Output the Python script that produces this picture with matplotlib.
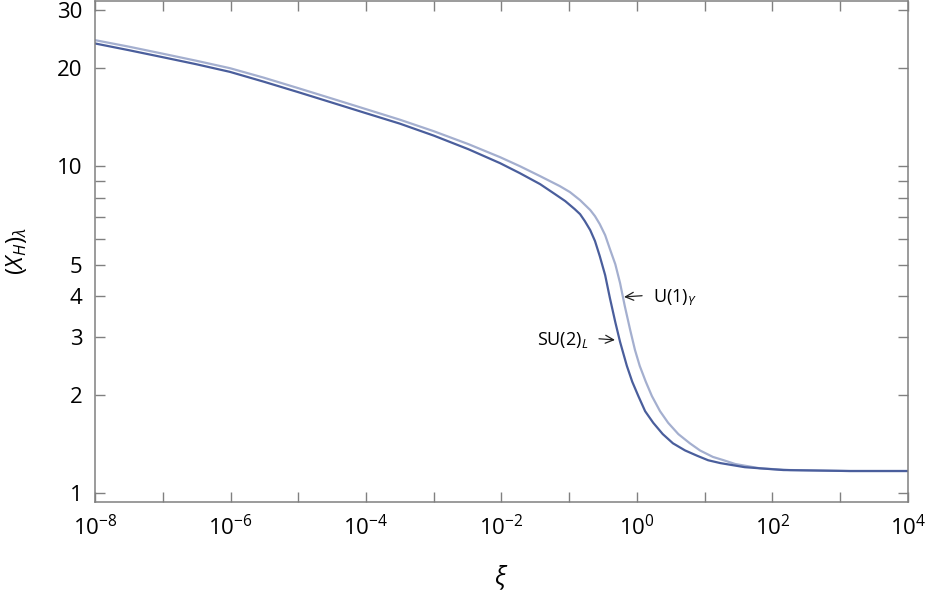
import numpy as np
import matplotlib
matplotlib.use('Agg')
import matplotlib.pyplot as plt
from matplotlib.ticker import FixedLocator, FixedFormatter, NullFormatter

plt.rcParams['font.family'] = ['Open Sans', 'DejaVu Sans']
plt.rcParams['mathtext.fontset'] = 'custom'
plt.rcParams['mathtext.rm'] = 'Open Sans'
plt.rcParams['mathtext.it'] = 'Open Sans:italic'
plt.rcParams['mathtext.fallback'] = 'stixsans'

# values: log10(xi) and (X_H)_lambda
su2_logxi = [-8.0, -7.5, -7.0, -6.51, -6.01, -5.51, -5.0, -4.5, -4.0, -3.5, -3.0, -2.49,
             -2.02, -1.73, -1.43, -1.21, -1.06, -0.92, -0.84, -0.77, -0.69, -0.62, -0.55,
             -0.47, -0.40, -0.32, -0.25, -0.15, -0.07, 0.02, 0.12, 0.24, 0.38, 0.53, 0.71,
             0.89, 1.05, 1.23, 1.59, 2.16, 3.14, 4.0]
su2_y = [23.73, 22.63, 21.54, 20.51, 19.43, 18.13, 16.84, 15.64, 14.52, 13.49, 12.40, 11.27,
         10.21, 9.52, 8.81, 8.21, 7.82, 7.39, 7.13, 6.79, 6.37, 5.90, 5.31,
         4.64, 3.95, 3.33, 2.90, 2.45, 2.19, 1.98, 1.78, 1.64, 1.515, 1.42, 1.35,
         1.30, 1.26, 1.235, 1.20, 1.176, 1.168, 1.168]

u1_logxi = [-8.0, -7.5, -7.0, -6.51, -6.01, -5.51, -5.0, -4.5, -4.0, -3.5, -3.0, -2.49,
            -2.02, -1.73, -1.43, -1.14, -0.99, -0.84, -0.69, -0.62, -0.55, -0.47, -0.40,
            -0.32, -0.25, -0.18, -0.10, -0.03, 0.04, 0.13, 0.22, 0.34, 0.46, 0.61, 0.78,
            0.93, 1.12, 1.28, 1.45, 1.82, 2.26, 3.14, 4.0]
u1_y = [24.29, 23.20, 22.08, 21.02, 19.94, 18.65, 17.32, 16.09, 14.94, 13.87, 12.79, 11.68,
        10.65, 10.0, 9.32, 8.69, 8.33, 7.87, 7.34, 7.03, 6.65, 6.15, 5.58,
        5.01, 4.39, 3.73, 3.15, 2.74, 2.45, 2.19, 1.98, 1.78, 1.64, 1.515, 1.42,
        1.35, 1.29, 1.26, 1.227, 1.19, 1.176, 1.168, 1.168]

y_major = [1, 2, 3, 4, 5, 10, 20, 30]
y_minor = [6, 7, 8, 9]
x_major = [1e-8, 1e-6, 1e-4, 1e-2, 1e0, 1e2, 1e4]
x_minor = [1e-7, 1e-5, 1e-3, 1e-1, 1e1, 1e3]

dark = '#4a5e9c'
light = '#a4afcf'
gray = '#808080'

fig = plt.figure(figsize=(9.29, 5.97), dpi=100)
ax = fig.add_axes([95/929, 1 - 502/597, 813/929, 501/597])

ax.plot(10**np.array(u1_logxi), u1_y, color=light, lw=1.6)
ax.plot(10**np.array(su2_logxi), su2_y, color=dark, lw=1.6)

ax.set_xscale('log')
ax.set_yscale('log')
ax.set_xlim(1e-8, 1e4)
ax.set_ylim(0.939, 32)

ax.xaxis.set_major_locator(FixedLocator(x_major))
ax.xaxis.set_minor_locator(FixedLocator(x_minor))
ax.xaxis.set_minor_formatter(NullFormatter())
ax.yaxis.set_major_locator(FixedLocator(y_major))
ax.yaxis.set_major_formatter(FixedFormatter([str(v) for v in y_major]))
ax.yaxis.set_minor_locator(FixedLocator(y_minor))
ax.yaxis.set_minor_formatter(NullFormatter())

for which in ['major', 'minor']:
    ax.tick_params(which=which, direction='in', length=7, width=1.0, color=gray,
                   top=True, right=True, labelsize=16, pad=9)
for s in ax.spines.values():
    s.set_color(gray)
    s.set_linewidth(1.1)

ax.set_xlabel(r'$\xi$', fontsize=18, labelpad=17)
ax.set_ylabel(r'$(X_H)_\lambda$', fontsize=17, labelpad=20)

arrow = dict(arrowstyle='->, head_length=0.45, head_width=0.22', color='#222222',
             lw=0.9, shrinkA=6, shrinkB=0)
ax.annotate('U(1)$_Y$', xy=(0.643, 3.98), xytext=(21, -3.6), textcoords='offset points',
            fontsize=13, ha='left', va='baseline',
            arrowprops=dict(arrow, relpos=(0, 0.6)))
ax.annotate('SU(2)$_L$', xy=(0.473, 2.94), xytext=(-19.5, -3.6), textcoords='offset points',
            fontsize=13, ha='right', va='baseline',
            arrowprops=dict(arrow, relpos=(1, 0.6)))

fig.savefig('out.png', dpi=100)
